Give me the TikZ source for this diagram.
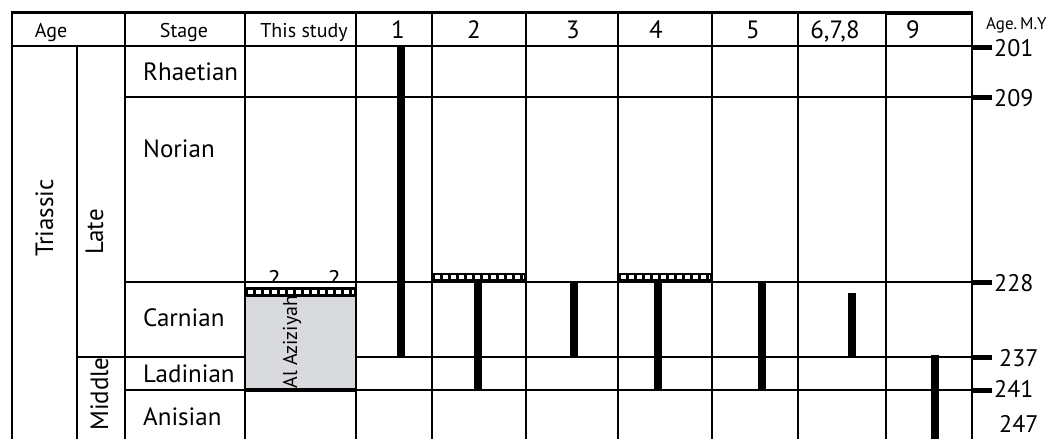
\documentclass[tikz,border=0pt]{standalone}
\usepackage{fontspec}
\setmainfont{PT Sans}
\definecolor{boxgrey}{RGB}{216,218,221}
\tikzset{
  grid/.style={line width=2.6pt, black, line cap=rect},
  rangebar/.style={line width=8pt, black, line cap=butt},
  tick/.style={line width=5pt, black, line cap=butt},
  hdr/.style={font=\fontsize{20}{20}\selectfont, anchor=base, inner sep=0pt},
  hdrnum/.style={font=\fontsize{25}{25}\selectfont, anchor=base, inner sep=0pt},
  stagelbl/.style={font=\fontsize{25}{25}\selectfont, anchor=base west, inner sep=0pt},
  vlbl/.style={font=\fontsize{25}{25}\selectfont, anchor=base, rotate=90, inner sep=0pt},
  agenum/.style={font=\fontsize{24}{24}\selectfont, anchor=west, inner sep=0pt},
  qmark/.style={font=\fontsize{24}{24}\selectfont, anchor=base, inner sep=0pt},
  dashes/.style={white, line width=3.6pt, dash pattern=on 5pt off 3pt, line cap=butt}
}
\begin{document}
\begin{tikzpicture}[x=1pt,y=-1pt]
\useasboundingbox (0,0) rectangle (1047,439);
% grey box (Al Aziziyah)
\fill[boxgrey] (245,297) rectangle (356,390);
% question marks (their dots hidden under the 228 line)
\begin{scope}
  \clip (246,250) rectangle (355,281.5);
  \node[qmark] (q1) at (274,287) {?};
  \node[qmark] (q2) at (334,287) {?};
\end{scope}
% horizontal lines
\draw[grid] (12,12.5) -- (972,12.5);
\draw[line width=4pt] (886,12.5) -- (972,12.5);
\draw[grid] (12,46) -- (972,46);
\draw[grid] (125,97) -- (972,97);
\draw[grid] (125,282) -- (972,282);
\draw[grid] (77,357) -- (245,357);
\draw[grid] (356,357) -- (972,357);
\draw[grid] (125,390) -- (972,390);
\draw[line width=3.6pt] (245,390) -- (356,390);
% vertical lines
\draw[grid] (12,12.5) -- (12,445);
\draw[grid] (77,46) -- (77,445);
\foreach \x in {125,245,356,432,526,618,712,798,886,972}
  \draw[grid] (\x,12.5) -- (\x,445);
% hatched bars
\fill[black] (245,287) rectangle (356,297);
\draw[dashes] (248,292) -- (354,292);
\fill[black] (432,272.5) rectangle (526,282);
\draw[dashes] (435,277) -- (524,277);
\fill[black] (618,272.5) rectangle (712,282);
\draw[dashes] (621,277) -- (710,277);
% range bars
\draw[rangebar] (401,46) -- (401,357);
\draw[rangebar] (477.5,282) -- (477.5,390);
\draw[rangebar] (573.5,282) -- (573.5,357);
\draw[rangebar] (657.5,282) -- (657.5,390);
\draw[rangebar] (762,282) -- (762,390);
\draw[rangebar] (851.5,293) -- (851.5,357);
\draw[rangebar] (935,355) -- (935,445);
% age ticks
\foreach \y in {47,97,282,357,390}
  \draw[tick] (972,\y) -- (992,\y);
% header texts
\node[hdr] (hAge) at (51,37) {Age};
\node[hdr] (hStage) at (184,37) {Stage};
\node[hdr] (hStudy) at (304,37) {This study};
\node[hdrnum] (h1) at (398,38) {1};
\node[hdrnum] (h2) at (474,38) {2};
\node[hdrnum] (h3) at (573,38) {3};
\node[hdrnum] (h4) at (656,38) {4};
\node[hdrnum] (h5) at (753,38) {5};
\node[hdrnum] (h678) at (835,38) {6,7,8};
\node[hdrnum] (h9) at (913,38) {9};
\node[font=\fontsize{17}{17}\selectfont, anchor=base west, inner sep=0pt] (hMY) at (986,29) {Age.\,M.Y};
% stage labels
\node[stagelbl] (sRh) at (143,80) {Rhaetian};
\node[stagelbl] (sNo) at (143,157) {Norian};
\node[stagelbl] (sCa) at (143,326) {Carnian};
\node[stagelbl] (sLa) at (143,382) {Ladinian};
\node[stagelbl] (sAn) at (143,425) {Anisian};
% vertical labels
\node[vlbl] (vTr) at (53,218) {Triassic};
\node[vlbl] (vLa) at (103,232) {Late};
\node[vlbl] (vMi) at (108,394) {Middle};
\node[font=\fontsize{20}{20}\selectfont, anchor=base, rotate=90, inner sep=0pt] (vAz) at (297,342) {Al Aziziyah};
% age numbers
\node[agenum] (a201) at (994,48) {201};
\node[agenum] (a209) at (994,98) {209};
\node[agenum] (a228) at (994,283) {228};
\node[agenum] (a237) at (999,358) {237};
\node[agenum] (a241) at (994,389) {241};
\node[agenum] (a247) at (999,424) {247};
\end{tikzpicture}
\end{document}
